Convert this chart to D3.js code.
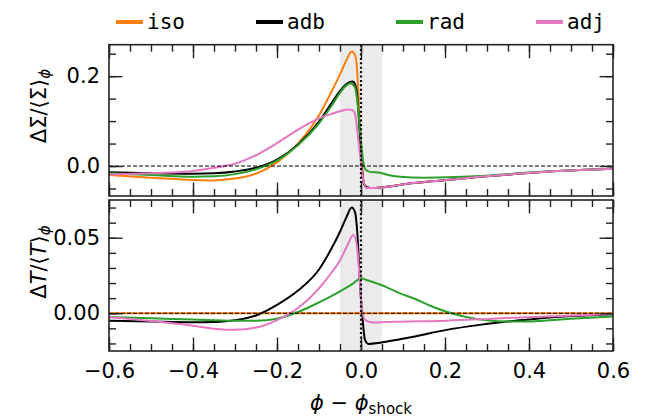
<!DOCTYPE html>
<html><head><meta charset="utf-8">
<script src="https://cdn.jsdelivr.net/npm/d3@7"></script>
<style>
html,body{margin:0;padding:0;background:#fff;}
svg{display:block;}
</style></head>
<body>
<svg id="c" width="657" height="420"></svg>
<script>
// ---------- data ----------
const seriesNames = ["iso", "adb", "rad", "adj"];
const seriesColors = ["#ff7f0e", "#000000", "#2ca02c", "#e377c2"];

const xTicks = [-0.6, -0.4, -0.2, 0.0, 0.2, 0.4, 0.6];
const sigmaTicks = [0.0, 0.2];
const tempTicks = [0.00, 0.05];
const shockBand = [-0.05, 0.05];

// Top panel: ΔΣ/<Σ>
const rightCommonSigma = [[0.0294,-0.049],[0.045,-0.048],[0.125,-0.038],[0.204,-0.031],[0.283,-0.024],[0.363,-0.018],[0.442,-0.0126],[0.521,-0.009],[0.6,-0.006]];
const isoSigma = [[-0.6,-0.020],[-0.5,-0.026],[-0.4,-0.031],[-0.35,-0.032],[-0.3,-0.028],[-0.25,-0.017],[-0.2,0.008],[-0.15,0.050],[-0.1,0.113],[-0.07,0.166],[-0.05,0.204],[-0.034,0.237],[-0.0222,0.255],[-0.0143,0.247],[-0.0103,0.227],[-0.0063,0.160],[-0.0024,0.078],[0.0016,0.012],[0.0072,-0.040],[0.0135,-0.047]].concat(rightCommonSigma);
const adbSigma = [[-0.6,-0.014],[-0.5,-0.016],[-0.4,-0.017],[-0.35,-0.016],[-0.3,-0.012],[-0.25,-0.004],[-0.2,0.014],[-0.15,0.048],[-0.1,0.099],[-0.07,0.140],[-0.05,0.167],[-0.034,0.183],[-0.0198,0.188],[-0.0143,0.182],[-0.0103,0.167],[-0.0063,0.123],[-0.0024,0.064],[0.0016,0.004],[0.0072,-0.040],[0.0135,-0.047]].concat(rightCommonSigma);
const radSigma = [[-0.6,-0.016],[-0.5,-0.020],[-0.4,-0.024],[-0.35,-0.023],[-0.3,-0.018],[-0.25,-0.007],[-0.2,0.012],[-0.15,0.046],[-0.1,0.095],[-0.07,0.134],[-0.05,0.163],[-0.034,0.180],[-0.0246,0.184],[-0.0143,0.175],[-0.0063,0.123],[-0.0008,0.064],[0.0056,0.008],[0.0119,-0.009],[0.0214,-0.013],[0.045,-0.015],[0.07,-0.021],[0.093,-0.024],[0.15,-0.026],[0.204,-0.025],[0.283,-0.022],[0.363,-0.017],[0.442,-0.012],[0.521,-0.009],[0.6,-0.006]];
const adjSigma = [[-0.6,-0.019],[-0.5,-0.016],[-0.45,-0.0145],[-0.4,-0.011],[-0.35,-0.004],[-0.3,0.005],[-0.25,0.024],[-0.2,0.051],[-0.15,0.081],[-0.1,0.106],[-0.07,0.116],[-0.05,0.122],[-0.03,0.126],[-0.02,0.1245],[-0.0143,0.116],[-0.0087,0.078],[-0.0024,0.027],[0.0056,-0.033],[0.0135,-0.049]].concat(rightCommonSigma);

// Bottom panel: ΔT/<T>
const isoTemp = [[-0.6,0],[-0.3,0],[0,0],[0.3,0],[0.6,0]];
const adbTemp = [[-0.6,-0.0049],[-0.5,-0.0055],[-0.4,-0.0060],[-0.35,-0.0058],[-0.3,-0.0047],[-0.25,-0.0015],[-0.2,0.0055],[-0.15,0.0150],[-0.1,0.029],[-0.07,0.043],[-0.05,0.054],[-0.034,0.064],[-0.0222,0.070],[-0.0143,0.067],[-0.0087,0.053],[-0.0024,0.020],[0.0040,-0.0044],[0.0095,-0.0177],[0.0175,-0.0203],[0.045,-0.0196],[0.093,-0.0172],[0.125,-0.0155],[0.204,-0.011],[0.283,-0.0077],[0.363,-0.0051],[0.442,-0.0029],[0.521,-0.0016],[0.6,-0.0007]];
const radTemp = [[-0.6,-0.0025],[-0.5,-0.0033],[-0.4,-0.0042],[-0.3,-0.0050],[-0.25,-0.0050],[-0.2,-0.0036],[-0.15,0.0008],[-0.1,0.0072],[-0.05,0.0145],[-0.02,0.0195],[0.0,0.0231],[0.0135,0.0220],[0.045,0.0190],[0.093,0.0132],[0.125,0.0099],[0.165,0.0050],[0.2,0.0013],[0.25,-0.0025],[0.3,-0.0047],[0.35,-0.0055],[0.4,-0.0054],[0.45,-0.0046],[0.5,-0.0037],[0.6,-0.0022]];
const adjTemp = [[-0.6,-0.0027],[-0.5,-0.0052],[-0.4,-0.0083],[-0.35,-0.0102],[-0.3,-0.0110],[-0.25,-0.0095],[-0.2,-0.0045],[-0.15,0.0035],[-0.1,0.0165],[-0.07,0.027],[-0.05,0.035],[-0.034,0.044],[-0.0183,0.0518],[-0.0103,0.046],[-0.0040,0.026],[0.0016,0.0044],[0.0095,-0.0044],[0.0294,-0.0062],[0.045,-0.0060],[0.093,-0.0056],[0.204,-0.0049],[0.323,-0.0034],[0.442,-0.0021],[0.6,-0.0005]];

const sigmaSeries = [isoSigma, adbSigma, radSigma, adjSigma];
const tempSeries = [isoTemp, adbTemp, radTemp, adjTemp];

// ---------- layout ----------
const SANS = "DejaVu Sans, sans-serif";
const MONO = "DejaVu Sans Mono, monospace";
const svg = d3.select("#c");
const L = 109, R = 613;
const x = d3.scaleLinear().domain([-0.6, 0.6]).range([L, R]);

const panels = [
  {top: 44.7, bottom: 196, domain: [-0.0667, 0.27], major: sigmaTicks, minorStep: 0.05, fmt: d3.format(".1f"), data: sigmaSeries, labelY: 106, xlabels: false, label: "sigma"},
  {top: 200, bottom: 351, domain: [-0.025, 0.075], major: tempTicks, minorStep: 0.01, fmt: d3.format(".2f"), data: tempSeries, labelY: 262, xlabels: true, label: "temp"}
];

function rangeTicks(lo, hi, step) {
  const out = [];
  const s = Math.ceil(lo / step - 1e-9), e = Math.floor(hi / step + 1e-9);
  for (let i = s; i <= e; i++) out.push(+(i * step).toFixed(6));
  return out;
}
const xMinor = rangeTicks(-0.6, 0.6, 0.05);

panels.forEach((p, pi) => {
  const y = d3.scaleLinear().domain(p.domain).range([p.bottom, p.top]);
  const g = svg.append("g");
  const clipId = "clip" + pi;
  svg.append("clipPath").attr("id", clipId).append("rect")
    .attr("x", L).attr("y", p.top).attr("width", R - L).attr("height", p.bottom - p.top);

  g.append("rect").attr("x", x(shockBand[0])).attr("width", x(shockBand[1]) - x(shockBand[0]))
    .attr("y", p.top).attr("height", p.bottom - p.top).attr("fill", "#ebebeb");

  const line = d3.line().x(d => x(d[0])).y(d => y(d[1])).curve(d3.curveMonotoneX);
  const lg = g.append("g").attr("clip-path", `url(#${clipId})`);
  p.data.forEach((s, i) => {
    lg.append("path").attr("d", line(s)).attr("fill", "none")
      .attr("stroke", seriesColors[i]).attr("stroke-width", 2)
      .attr("stroke-linejoin", "round").attr("stroke-linecap", "round");
  });
  lg.append("line").attr("x1", L).attr("x2", R).attr("y1", y(0)).attr("y2", y(0))
    .attr("stroke", "#000").attr("stroke-width", 1).attr("stroke-dasharray", "4,2");
  lg.append("line").attr("x1", x(0)).attr("x2", x(0)).attr("y1", p.top).attr("y2", p.bottom)
    .attr("stroke", "#000").attr("stroke-width", 2.2).attr("stroke-dasharray", "2,2.4");

  const yMinor = rangeTicks(p.domain[0], p.domain[1], p.minorStep);
  const styleAxis = sel => {
    sel.select(".domain").remove();
    sel.selectAll(".tick line").attr("stroke", "#222").attr("stroke-width", 1.4);
    sel.selectAll("text").style("font-family", SANS).style("font-size", "21px").attr("fill", "#000");
  };
  g.append("g").attr("transform", `translate(${L},0)`)
    .call(d3.axisLeft(y).tickValues(yMinor).tickSize(-7).tickFormat("")).call(styleAxis);
  g.append("g").attr("transform", `translate(${L},0)`)
    .call(d3.axisLeft(y).tickValues(p.major).tickSize(-13.5).tickPadding(9).tickFormat(p.fmt)).call(styleAxis);
  g.append("g").attr("transform", `translate(${R},0)`)
    .call(d3.axisRight(y).tickValues(yMinor).tickSize(-7).tickFormat("")).call(styleAxis);
  g.append("g").attr("transform", `translate(${R},0)`)
    .call(d3.axisRight(y).tickValues(p.major).tickSize(-13.5).tickFormat("")).call(styleAxis);
  g.append("g").attr("transform", `translate(0,${p.top})`)
    .call(d3.axisTop(x).tickValues(xMinor).tickSize(-7).tickFormat("")).call(styleAxis);
  g.append("g").attr("transform", `translate(0,${p.top})`)
    .call(d3.axisTop(x).tickValues(xTicks).tickSize(-13.5).tickFormat("")).call(styleAxis);
  g.append("g").attr("transform", `translate(0,${p.bottom})`)
    .call(d3.axisBottom(x).tickValues(xMinor).tickSize(-7).tickFormat("")).call(styleAxis);
  g.append("g").attr("transform", `translate(0,${p.bottom})`)
    .call(d3.axisBottom(x).tickValues(xTicks).tickSize(-13.5).tickPadding(12)
      .tickFormat(p.xlabels ? d3.format(".1f") : "")).call(styleAxis);

  g.append("rect").attr("x", L).attr("y", p.top).attr("width", R - L).attr("height", p.bottom - p.top)
    .attr("fill", "none").attr("stroke", "#222").attr("stroke-width", 1.6);

  const yl = g.append("text").attr("transform", `translate(46,${p.labelY}) rotate(-90)`)
    .attr("text-anchor", "middle").style("font-family", SANS).style("font-size", "21px");
  if (p.label === "sigma") {
    yl.append("tspan").text("ΔΣ/⟨Σ⟩");
  } else {
    yl.append("tspan").text("Δ");
    yl.append("tspan").style("font-style", "italic").text("T");
    yl.append("tspan").text("/⟨");
    yl.append("tspan").style("font-style", "italic").text("T");
    yl.append("tspan").text("⟩");
  }
  yl.append("tspan").style("font-style", "italic").style("font-size", "15px").attr("dy", 4).text("ϕ");
});

const xl = svg.append("text").attr("x", x(0)).attr("y", 410).attr("text-anchor", "middle")
  .style("font-family", SANS).style("font-size", "21px");
xl.append("tspan").style("font-style", "italic").text("ϕ");
xl.append("tspan").text(" − ");
xl.append("tspan").style("font-style", "italic").text("ϕ");
xl.append("tspan").style("font-size", "15px").attr("dy", 4).text("shock");

const legX = [116, 256, 396, 536];
const lgd = svg.append("g");
seriesNames.forEach((n, i) => {
  lgd.append("line").attr("x1", legX[i]).attr("x2", legX[i] + 27).attr("y1", 22).attr("y2", 22)
    .attr("stroke", seriesColors[i]).attr("stroke-width", 4);
  lgd.append("text").attr("x", legX[i] + 31).attr("y", 29).style("font-family", MONO)
    .style("font-size", "21px").text(n);
});
</script>
</body></html>
